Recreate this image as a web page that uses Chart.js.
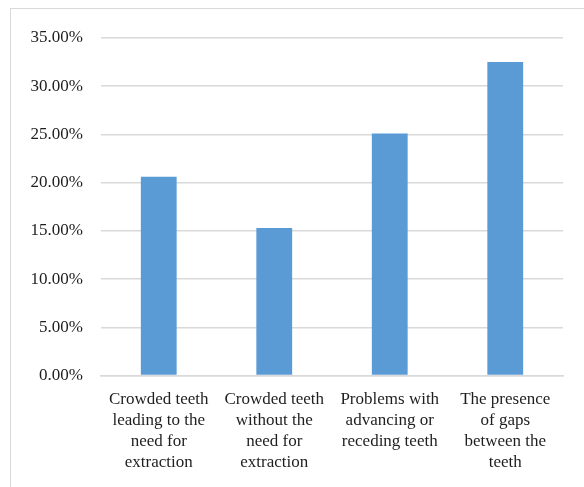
<!DOCTYPE html>
<html>
<head>
<meta charset="utf-8">
<script src="https://cdn.jsdelivr.net/npm/chart.js@4.4.0/dist/chart.umd.min.js"></script>
<style>
  body { margin: 0; background: #fff; overflow: hidden; }
  #frame { position: absolute; left: 10px; top: 8px; width: 620px; height: 520px; border: 1px solid #d9d9d9; }
  #wrap { position: absolute; left: 0; top: 0; width: 584px; height: 487px; }
</style>
</head>
<body>
<div id="frame"></div>
<div id="wrap"><canvas id="chart"></canvas></div>
<script>
// categories (multi-line labels) and values in percent
const categories = [
    ['Crowded teeth', 'leading to the', 'need for', 'extraction'],
    ['Crowded teeth', 'without the', 'need for', 'extraction'],
    ['Problems with', 'advancing or', 'receding teeth'],
    ['The presence', 'of gaps', 'between the', 'teeth']
];
const shares = [20.6, 15.3, 25.1, 32.5];
const yTicks = [0, 5, 10, 15, 20, 25, 30, 35];

const barBlue = '#5B9BD5';
const gridGray = '#d9d9d9';
const textColor = '#1e1e1e';
const font = { family: "'Liberation Serif', 'Times New Roman', serif", size: 17 };

const ctx = document.getElementById('chart').getContext('2d');
new Chart(ctx, {
    type: 'bar',
    data: {
        labels: categories,
        datasets: [{
            data: shares,
            backgroundColor: barBlue,
            borderWidth: 0,
            barPercentage: 0.62,
            categoryPercentage: 0.5
        }]
    },
    options: {
        responsive: true,
        maintainAspectRatio: false,
        animation: false,
        layout: { padding: { top: 38, right: 21, left: 0, bottom: 0 } },
        plugins: {
            legend: { display: false },
            tooltip: { enabled: false }
        },
        scales: {
            x: {
                grid: { display: false, drawTicks: false },
                border: { color: gridGray, width: 1.5 },
                ticks: {
                    color: textColor,
                    font: { ...font, lineHeight: 1.24 },
                    padding: 13,
                    maxRotation: 0,
                    autoSkip: false
                },
                afterFit: (scale) => { scale.height = 487 - 375.5; }
            },
            y: {
                min: 0,
                max: 35,
                afterBuildTicks: (scale) => { scale.ticks = yTicks.map(v => ({ value: v })); },
                grid: { color: gridGray, lineWidth: 1.5, drawTicks: false },
                border: { display: false },
                ticks: {
                    color: textColor,
                    font: font,
                    padding: 18,
                    callback: (v) => v.toFixed(2) + '%'
                },
                afterFit: (scale) => { scale.width = 101; }
            }
        }
    }
});
</script>
</body>
</html>
